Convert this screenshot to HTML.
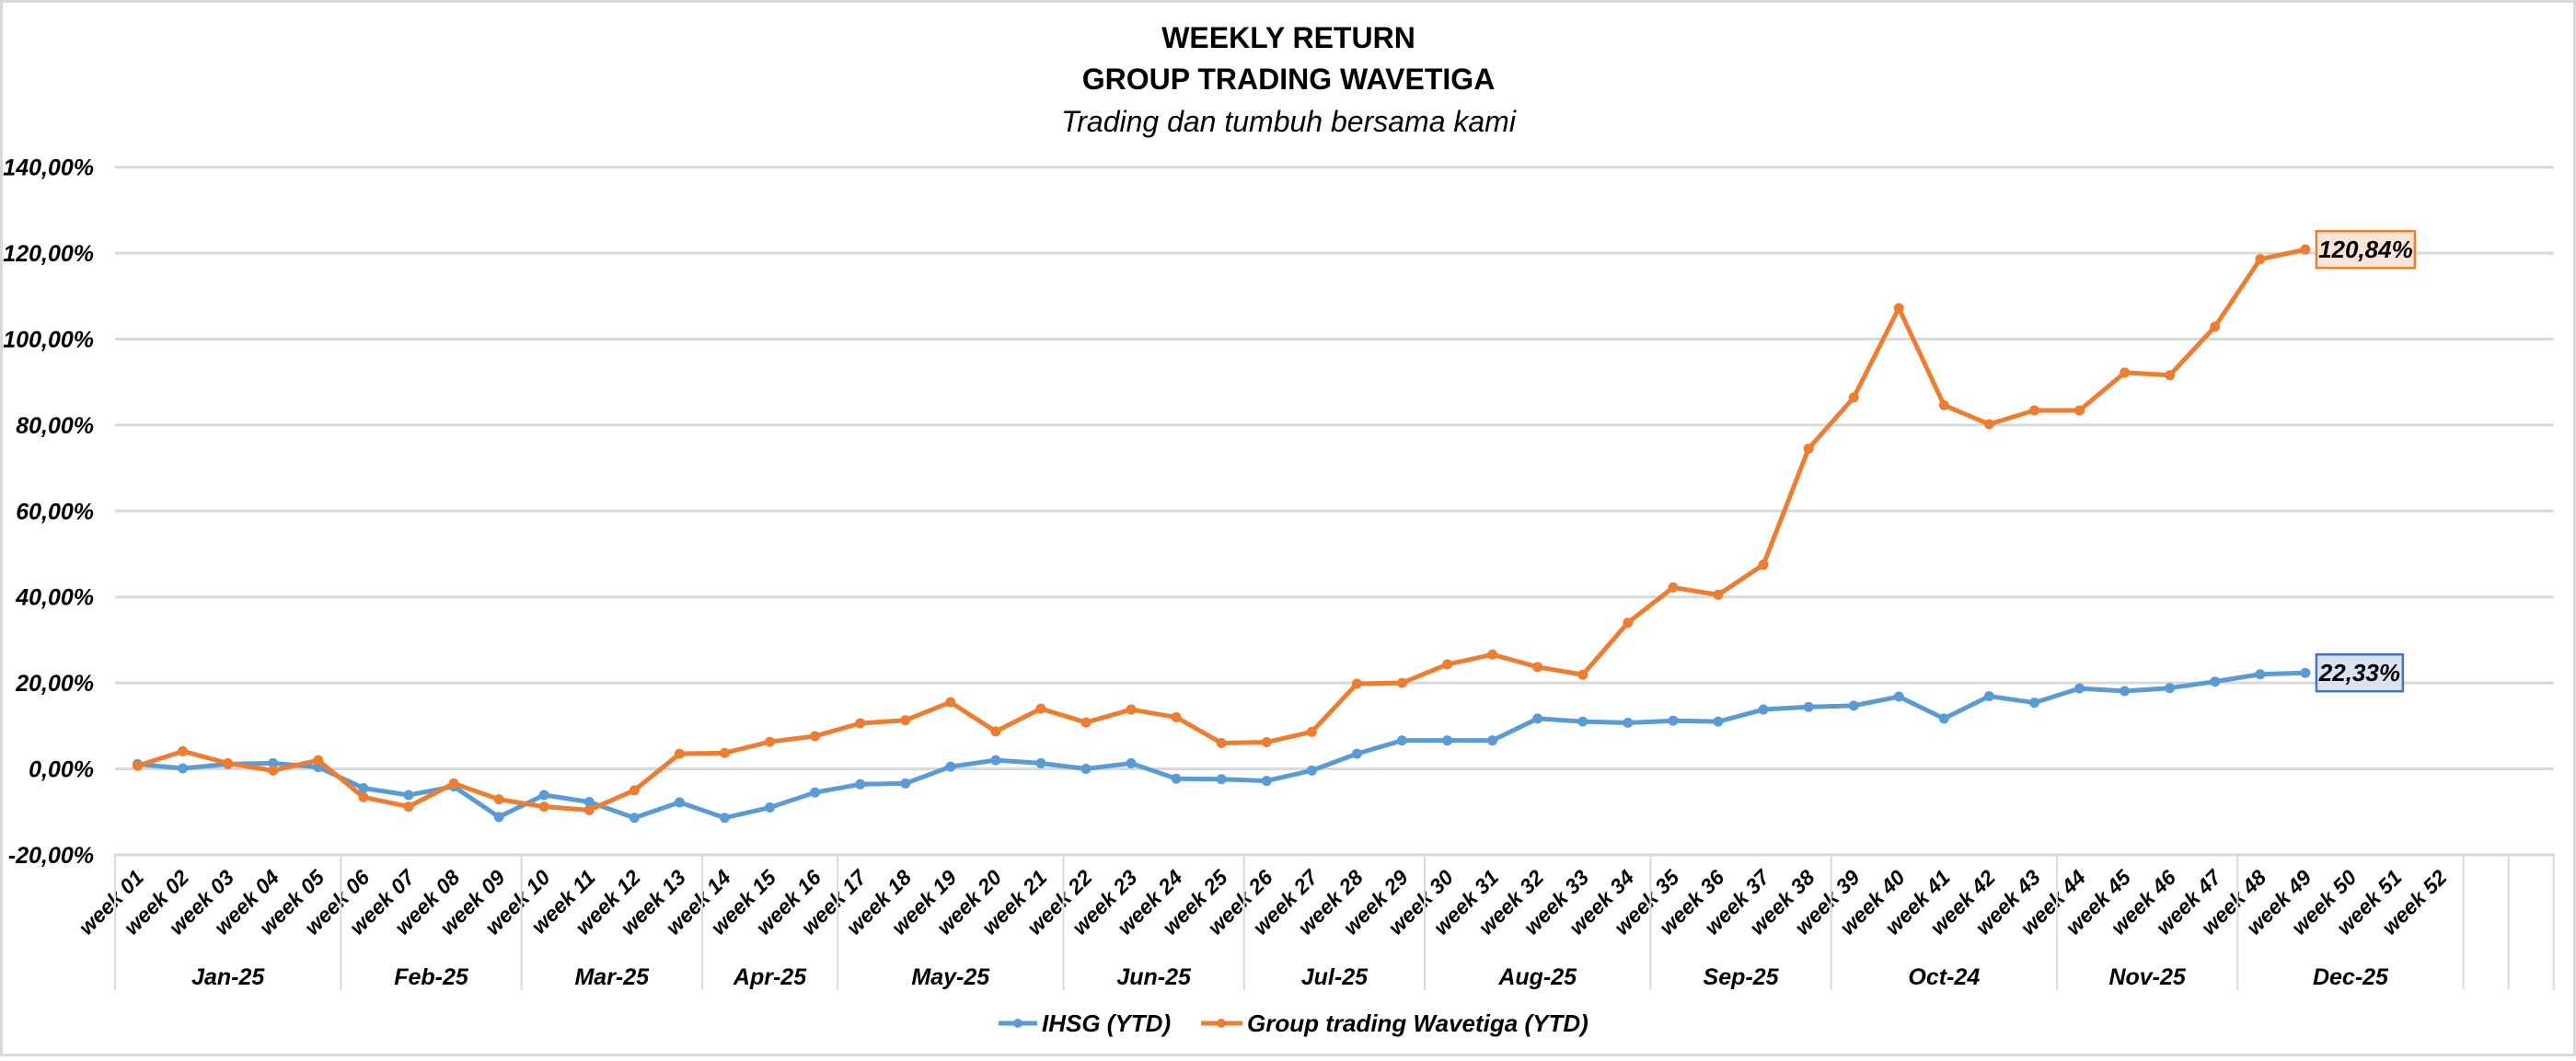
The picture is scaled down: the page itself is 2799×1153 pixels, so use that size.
<!DOCTYPE html>
<html><head><meta charset="utf-8"><style>
html,body{margin:0;padding:0;background:#fff;}
svg text{font-family:"Liberation Sans Narrow","Liberation Sans",sans-serif;}
</style></head><body>
<svg id="chart" width="2799" height="1148" viewBox="0 0 2799 1148" xmlns="http://www.w3.org/2000/svg">
<rect x="1.5" y="1.5" width="2796" height="1145" fill="#fff" stroke="#d9d9d9" stroke-width="3"/>
<text x="1400" y="52" text-anchor="middle" font-size="32" font-weight="bold">WEEKLY RETURN</text>
<text x="1400" y="97" text-anchor="middle" font-size="32" font-weight="bold">GROUP TRADING WAVETIGA</text>
<text x="1400" y="143" text-anchor="middle" font-size="32" font-style="italic">Trading dan tumbuh bersama kami</text>
<g id="grid"></g><g id="xaxis"></g><g id="series"></g><g id="labels"></g>
<g>
<g>
<line x1="1085" y1="1112" x2="1127" y2="1112" stroke="#5b9bd5" stroke-width="5"/><circle cx="1106" cy="1112" r="5" fill="#5b9bd5"/>
<text x="1132" y="1121" font-size="26" font-weight="bold" font-style="italic">IHSG (YTD)</text></g>
<g>
<line x1="1305" y1="1112" x2="1350" y2="1112" stroke="#ed7d31" stroke-width="5"/><circle cx="1327" cy="1112" r="5" fill="#ed7d31"/>
<text x="1355" y="1121" font-size="26" font-weight="bold" font-style="italic">Group trading Wavetiga (YTD)</text></g>
</g>
</svg>
<script>
const weeks = Array.from({length:52},(_,i)=>'week '+String(i+1).padStart(2,'0'));
const months = ['Jan-25','Feb-25','Mar-25','Apr-25','May-25','Jun-25','Jul-25','Aug-25','Sep-25','Oct-24','Nov-25','Dec-25'];
const monthWeeks = [5,4,4,3,5,4,4,5,4,5,4,5];
const yTicks = [-20,0,20,40,60,80,100,120,140];
const ihsg = [1.1,0.1,1.1,1.3,0.4,-4.5,-6.1,-4.1,-11.2,-6.1,-7.7,-11.4,-7.8,-11.4,-9.0,-5.5,-3.6,-3.4,0.5,2.0,1.3,0.0,1.3,-2.3,-2.4,-2.8,-0.4,3.5,6.6,6.6,6.6,11.7,11.0,10.7,11.2,11.0,13.8,14.4,14.7,16.8,11.7,16.9,15.4,18.7,18.1,18.8,20.3,22.0,22.33];
const wavetiga = [0.7,4.1,1.3,-0.4,2.0,-6.6,-8.8,-3.4,-7.1,-8.8,-9.6,-5.0,3.5,3.7,6.3,7.6,10.6,11.3,15.5,8.7,14.0,10.8,13.8,12.0,6.0,6.2,8.6,19.8,20.0,24.3,26.6,23.7,21.9,34.0,42.2,40.5,47.5,74.5,86.4,107.2,84.6,80.2,83.4,83.4,92.2,91.6,102.9,118.6,120.84];
const NS='http://www.w3.org/2000/svg';
const X0=125,SLOT=49.07,NSLOT=54,Y0=835.5,PER=93.4/20;
const xs=i=>X0+SLOT*(i+0.5);
const ys=v=>Y0-v*PER;
function mk(tag,attrs,parent){const e=document.createElementNS(NS,tag);for(const k in attrs)e.setAttribute(k,attrs[k]);parent.appendChild(e);return e;}
const grid=document.getElementById('grid');
yTicks.forEach(t=>{
  const l=mk('line',{x1:X0,x2:X0+SLOT*NSLOT,y1:ys(t),y2:ys(t),stroke:'#d9d9d9','stroke-width':3},grid);
  
  
  const tx=mk('text',{x:102,y:ys(t)+9,'text-anchor':'end','font-size':25,'font-weight':'bold','font-style':'italic'},grid);
  tx.textContent=t.toFixed(2).replace('.',',')+'%';
  
  
});
const xa=document.getElementById('xaxis');
weeks.forEach((w,i)=>{
  const cx=xs(i)+8;
  const t=mk('text',{x:cx,y:955,'text-anchor':'end','font-size':23,'font-weight':'bold','font-style':'italic',transform:`rotate(-45 ${cx} 955)`},xa);
  t.textContent=w;
  
  
});
let acc=0;
const sep=s=>{const l=mk('line',{x1:X0+SLOT*s,x2:X0+SLOT*s,y1:928,y2:1076,stroke:'#d9d9d9','stroke-width':2},xa);
  
  };
sep(0);
months.forEach((m,i)=>{
  const mid=X0+SLOT*(acc+monthWeeks[i]/2);
  const t=mk('text',{x:mid,y:1070,'text-anchor':'middle','font-size':25,'font-weight':'bold','font-style':'italic'},xa);
  t.textContent=m;
  
  
  acc+=monthWeeks[i]; sep(acc);
});
sep(acc+1); sep(acc+2);
const sg=document.getElementById('series');
function series(data,color,name){
  const g=mk('g',{},sg);
  
  
  const p=mk('polyline',{points:data.map((v,i)=>xs(i)+','+ys(v)).join(' '),fill:'none',stroke:color,'stroke-width':5,'stroke-linejoin':'round'},g);
  
  
  data.forEach((v,i)=>{const c=mk('circle',{cx:xs(i),cy:ys(v),r:5.5,fill:color},g);
    
    });
}
series(ihsg,'#5b9bd5','ihsg-series');
series(wavetiga,'#ed7d31','wavetiga-series');
const lg=document.getElementById('labels');
function label(data,fill,stroke,name){
  const i=data.length-1,x=xs(i)+12,y=ys(data[i]);
  const txt=data[i].toFixed(2).replace('.',',')+'%';
  const w=txt.length*13+16;
  const r=mk('rect',{x:x,y:y-20,width:w,height:40,fill:fill,stroke:stroke,'stroke-width':2.5},lg);
  
  
  const t=mk('text',{x:x+w/2,y:y+9,'text-anchor':'middle','font-size':26,'font-weight':'bold','font-style':'italic'},lg);
  t.textContent=txt;
  
  
}
label(wavetiga,'#fbe5d6','#ed7d31','wavetiga-end-label');
label(ihsg,'#dae3f3','#4472c4','ihsg-end-label');
</script>
</body></html>
